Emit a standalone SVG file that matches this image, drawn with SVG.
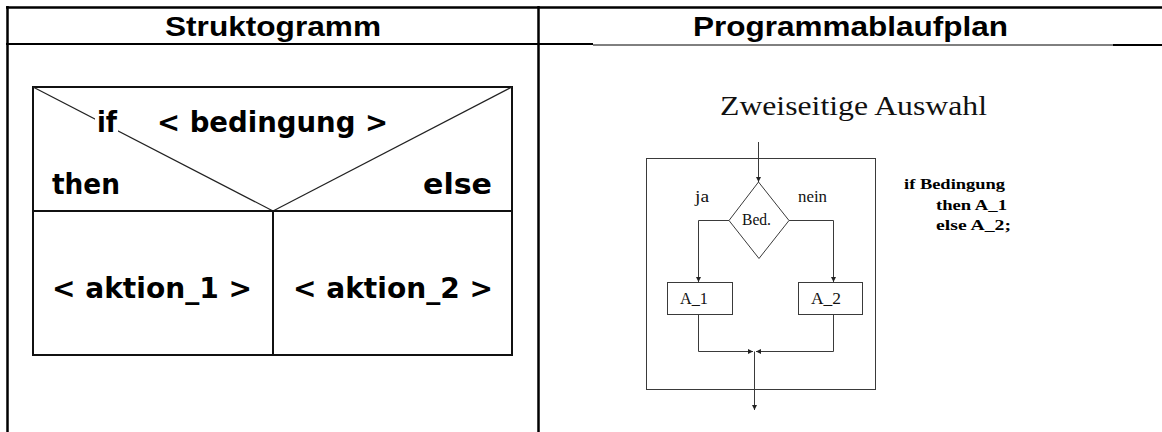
<svg xmlns="http://www.w3.org/2000/svg" width="1162" height="432" viewBox="0 0 1162 432">
  <style>
    .rule { stroke: #000; fill: none; }
    .nsd-line { stroke: #111; stroke-width: 2; fill: none; }
    .nsd-diag { stroke: #222; stroke-width: 1.2; fill: none; }
    .nsd-text { font-family: "DejaVu Sans Condensed", "DejaVu Sans", sans-serif; font-stretch: condensed; font-weight: bold; font-size: 29px; fill: #000; }
    .hdr { font-family: "Liberation Sans", Arial, sans-serif; font-weight: bold; font-size: 28px; fill: #000; }
    .fc-line { stroke: #3a3a3a; stroke-width: 1; fill: none; }
    .fc-box { stroke: #3a3a3a; stroke-width: 1; fill: #fff; }
    .fc-text { font-family: "Liberation Serif", "Times New Roman", serif; font-size: 16px; fill: #111; }
    .fc-title { font-family: "Liberation Serif", "Times New Roman", serif; font-size: 27px; fill: #111; }
    .code { font-family: "Liberation Serif", "Times New Roman", serif; font-weight: bold; font-size: 15px; fill: #000; }
  </style>
  <defs>
    <marker id="arrow" viewBox="0 0 8 8" refX="8" refY="4" markerWidth="5" markerHeight="5" markerUnits="userSpaceOnUse" orient="auto">
      <path d="M0,0 L8,4 L0,8 z" fill="#222"/>
    </marker>
  </defs>

  <rect width="1162" height="432" fill="#fff"/>

  <!-- table frame: top rule, column borders, header rule -->
  <g id="table">
    <line class="rule" x1="6" y1="7.5" x2="1162" y2="7.5" stroke-width="2.5"/>
    <line class="rule" x1="7.5" y1="6" x2="7.5" y2="432" stroke-width="2.5"/>
    <line class="rule" x1="538.5" y1="6" x2="538.5" y2="432" stroke-width="2.5"/>
    <line class="rule" x1="6" y1="44" x2="593" y2="44" stroke-width="2"/>
    <line class="rule" x1="593" y1="45" x2="1113" y2="45" stroke-width="1"/>
    <line class="rule" x1="1113" y1="45" x2="1162" y2="45" stroke-width="2"/>
    <text class="hdr" x="165" y="36" textLength="216" lengthAdjust="spacingAndGlyphs">Struktogramm</text>
    <text class="hdr" x="693" y="36" textLength="315" lengthAdjust="spacingAndGlyphs">Programmablaufplan</text>
  </g>

  <!-- Nassi-Shneiderman block: two-way selection -->
  <g id="nsd-condition">
    <rect class="nsd-line" x="33" y="87" width="479" height="124"/>
    <line class="nsd-diag" x1="33" y1="87" x2="273" y2="211"/>
    <line class="nsd-diag" x1="512" y1="87" x2="273" y2="211"/>
    <rect x="95" y="112" width="23" height="22" fill="#fff"/>
    <text class="nsd-text" x="97" y="132" textLength="20" lengthAdjust="spacingAndGlyphs">if</text>
    <text class="nsd-text" x="157" y="132" textLength="231" lengthAdjust="spacingAndGlyphs">&lt; bedingung &gt;</text>
    <text class="nsd-text" x="52" y="194" textLength="68" lengthAdjust="spacingAndGlyphs">then</text>
    <text class="nsd-text" x="423" y="194" textLength="69" lengthAdjust="spacingAndGlyphs">else</text>
  </g>
  <g id="nsd-action-1">
    <rect class="nsd-line" x="33" y="211" width="240" height="144"/>
    <text class="nsd-text" x="52" y="298" textLength="200" lengthAdjust="spacingAndGlyphs">&lt; aktion_1 &gt;</text>
  </g>
  <g id="nsd-action-2">
    <rect class="nsd-line" x="273" y="211" width="239" height="144"/>
    <text class="nsd-text" x="293" y="298" textLength="200" lengthAdjust="spacingAndGlyphs">&lt; aktion_2 &gt;</text>
  </g>

  <!-- flowchart -->
  <text class="fc-title" x="720" y="115" textLength="267" lengthAdjust="spacingAndGlyphs">Zweiseitige Auswahl</text>

  <g id="fc-frame">
    <rect class="fc-line" x="646.5" y="158.5" width="229" height="231"/>
  </g>

  <g id="fc-connectors">
    <line class="fc-line" x1="758.5" y1="142" x2="758.5" y2="182" marker-end="url(#arrow)"/>
    <polyline class="fc-line" points="729,220.5 698.5,220.5 698.5,282" marker-end="url(#arrow)"/>
    <polyline class="fc-line" points="789,220.5 833.5,220.5 833.5,282" marker-end="url(#arrow)"/>
    <polyline class="fc-line" points="698.5,314 698.5,351.5 753,351.5" marker-end="url(#arrow)"/>
    <polyline class="fc-line" points="833.5,314 833.5,351.5 756,351.5" marker-end="url(#arrow)"/>
    <line class="fc-line" x1="754.5" y1="351.5" x2="754.5" y2="410" marker-end="url(#arrow)"/>
    <text class="fc-text" x="695" y="202" textLength="14" lengthAdjust="spacingAndGlyphs">ja</text>
    <text class="fc-text" x="798" y="202" textLength="29" lengthAdjust="spacingAndGlyphs">nein</text>
  </g>

  <g id="fc-decision">
    <polygon class="fc-box" points="758.5,182 789,220.5 759,258.5 729,220.5"/>
    <text class="fc-text" x="742" y="225" textLength="29" lengthAdjust="spacingAndGlyphs">Bed.</text>
  </g>
  <g id="fc-a1">
    <rect class="fc-box" x="667.5" y="282.5" width="65" height="32"/>
    <text class="fc-text" x="680" y="304" textLength="28" lengthAdjust="spacingAndGlyphs">A_1</text>
  </g>
  <g id="fc-a2">
    <rect class="fc-box" x="798.5" y="282.5" width="64" height="32"/>
    <text class="fc-text" x="811" y="304" textLength="30" lengthAdjust="spacingAndGlyphs">A_2</text>
  </g>

  <!-- equivalent code -->
  <g id="code">
    <text class="code" x="904" y="189" textLength="101" lengthAdjust="spacingAndGlyphs">if Bedingung</text>
    <text class="code" x="936" y="210" textLength="71" lengthAdjust="spacingAndGlyphs">then A_1</text>
    <text class="code" x="936" y="230" textLength="75" lengthAdjust="spacingAndGlyphs">else  A_2;</text>
  </g>
</svg>
